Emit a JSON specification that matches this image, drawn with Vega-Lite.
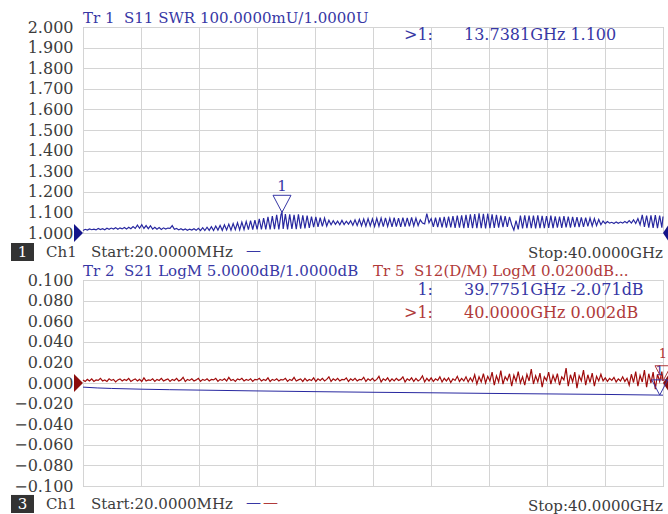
{
"$schema":"https://vega.github.io/schema/vega-lite/v6.json",
"padding":{"left":10,"top":10,"right":0,"bottom":0},
"background":"white",
"spacing":47,
"bounds":"flush",
"config":{
"view":{"stroke":"#ababab","strokeWidth":1},
"axis":{"grid":true,"gridColor":"#d4d4d4","gridWidth":1,"domain":false,"ticks":false,"labelFont":"DejaVu Serif","labelFontSize":16,"labelColor":"#3c3c3c","labelPadding":10,"title":null,"labelOverlap":false},
"text":{"font":"DejaVu Serif","fontSize":15,"baseline":"middle"}
},
"datasets":{
"trace":[
{"f":20,"s11":1.012,"s12":0.003},{"f":170,"s11":1.018,"s12":0.0015},{"f":320,"s11":1.014,"s12":0.0035},{"f":470,"s11":1.020,"s12":0.002},{"f":620,"s11":1.016,"s12":0.004},{"f":770,"s11":1.019,"s12":0.0015},{"f":920,"s11":1.015,"s12":0.003},{"f":1070,"s11":1.022,"s12":0.0025},{"f":1220,"s11":1.017,"s12":0.0045},{"f":1370,"s11":1.021,"s12":0.002},
{"f":1520,"s11":1.016,"s12":0.003},{"f":1670,"s11":1.023,"s12":0.0015},{"f":1820,"s11":1.018,"s12":0.004},{"f":1970,"s11":1.024,"s12":0.0025},{"f":2120,"s11":1.019,"s12":0.0035},{"f":2270,"s11":1.026,"s12":0.001},{"f":2420,"s11":1.018,"s12":0.003},{"f":2570,"s11":1.025,"s12":0.004},{"f":2720,"s11":1.020,"s12":0.002},{"f":2870,"s11":1.027,"s12":0.0035},
{"f":3020,"s11":1.019,"s12":0.0025},{"f":3170,"s11":1.028,"s12":0.0045},{"f":3320,"s11":1.021,"s12":0.0015},{"f":3470,"s11":1.031,"s12":0.003},{"f":3620,"s11":1.022,"s12":0.004},{"f":3770,"s11":1.038,"s12":0.002},{"f":3920,"s11":1.023,"s12":0.0035},{"f":4070,"s11":1.040,"s12":0.0015},{"f":4220,"s11":1.022,"s12":0.005},{"f":4370,"s11":1.036,"s12":0.002},
{"f":4520,"s11":1.021,"s12":0.003},{"f":4670,"s11":1.035,"s12":0.0025},{"f":4820,"s11":1.019,"s12":0.004},{"f":4970,"s11":1.028,"s12":0.0015},{"f":5120,"s11":1.018,"s12":0.0035},{"f":5270,"s11":1.026,"s12":0.0025},{"f":5420,"s11":1.017,"s12":0.0045},{"f":5570,"s11":1.025,"s12":0.002},{"f":5720,"s11":1.019,"s12":0.003},{"f":5870,"s11":1.024,"s12":0.004},
{"f":6020,"s11":1.023,"s12":0.0015},{"f":6170,"s11":1.036,"s12":0.0035},{"f":6320,"s11":1.018,"s12":0.0025},{"f":6470,"s11":1.022,"s12":0.0045},{"f":6620,"s11":1.015,"s12":0.002},{"f":6770,"s11":1.021,"s12":0.003},{"f":6920,"s11":1.014,"s12":0.0055},{"f":7070,"s11":1.020,"s12":0.0015},{"f":7220,"s11":1.013,"s12":0.0035},{"f":7370,"s11":1.019,"s12":0.0025},
{"f":7520,"s11":1.014,"s12":0.004},{"f":7670,"s11":1.021,"s12":0.002},{"f":7820,"s11":1.013,"s12":0.003},{"f":7970,"s11":1.023,"s12":0.0045},{"f":8120,"s11":1.012,"s12":0.0015},{"f":8270,"s11":1.026,"s12":0.0035},{"f":8420,"s11":1.012,"s12":0.0025},{"f":8570,"s11":1.028,"s12":0.004},{"f":8720,"s11":1.013,"s12":0.002},{"f":8870,"s11":1.031,"s12":0.0035},
{"f":9020,"s11":1.012,"s12":0.003},{"f":9170,"s11":1.034,"s12":0.0045},{"f":9320,"s11":1.014,"s12":0.0015},{"f":9470,"s11":1.037,"s12":0.0035},{"f":9620,"s11":1.013,"s12":0.0025},{"f":9770,"s11":1.040,"s12":0.004},{"f":9920,"s11":1.015,"s12":0.002},{"f":10070,"s11":1.043,"s12":0.0055},{"f":10220,"s11":1.014,"s12":0.0025},{"f":10370,"s11":1.046,"s12":0.0035},
{"f":10520,"s11":1.016,"s12":0.0015},{"f":10670,"s11":1.050,"s12":0.004},{"f":10820,"s11":1.015,"s12":0.003},{"f":10970,"s11":1.053,"s12":0.0045},{"f":11120,"s11":1.017,"s12":0.002},{"f":11270,"s11":1.056,"s12":0.0035},{"f":11420,"s11":1.016,"s12":0.0025},{"f":11570,"s11":1.060,"s12":0.004},{"f":11720,"s11":1.017,"s12":0.0015},{"f":11870,"s11":1.063,"s12":0.0035},
{"f":12020,"s11":1.018,"s12":0.003},{"f":12170,"s11":1.068,"s12":0.0045},{"f":12320,"s11":1.017,"s12":0.002},{"f":12470,"s11":1.072,"s12":0.0035},{"f":12620,"s11":1.018,"s12":0.0025},{"f":12770,"s11":1.078,"s12":0.005},{"f":12920,"s11":1.017,"s12":0.0015},{"f":13070,"s11":1.082,"s12":0.0035},{"f":13220,"s11":1.019,"s12":0.0025},{"f":13370,"s11":1.088,"s12":0.004},
{"f":13520,"s11":1.018,"s12":0.002},{"f":13670,"s11":1.090,"s12":0.0035},{"f":13738.1,"s11":1.100,"s12":0.003},{"f":13820,"s11":1.020,"s12":0.003},{"f":13970,"s11":1.092,"s12":0.0045},{"f":14120,"s11":1.018,"s12":0.0015},{"f":14270,"s11":1.090,"s12":0.0035},{"f":14420,"s11":1.020,"s12":0.0025},{"f":14570,"s11":1.088,"s12":0.0055},{"f":14720,"s11":1.019,"s12":0.002},{"f":14870,"s11":1.090,"s12":0.003},
{"f":15020,"s11":1.021,"s12":0.004},{"f":15170,"s11":1.086,"s12":0.0015},{"f":15320,"s11":1.022,"s12":0.0045},{"f":15470,"s11":1.084,"s12":0.002},{"f":15620,"s11":1.025,"s12":0.0035},{"f":15770,"s11":1.080,"s12":0.0025},{"f":15920,"s11":1.028,"s12":0.005},{"f":16070,"s11":1.078,"s12":0.0015},{"f":16220,"s11":1.030,"s12":0.004},{"f":16370,"s11":1.074,"s12":0.0025},
{"f":16520,"s11":1.032,"s12":0.0045},{"f":16670,"s11":1.072,"s12":0.002},{"f":16820,"s11":1.034,"s12":0.0035},{"f":16970,"s11":1.062,"s12":0.006},{"f":17120,"s11":1.040,"s12":0.0015},{"f":17270,"s11":1.060,"s12":0.004},{"f":17420,"s11":1.042,"s12":0.0025},{"f":17570,"s11":1.058,"s12":0.0045},{"f":17720,"s11":1.040,"s12":0.002},{"f":17870,"s11":1.061,"s12":0.0035},
{"f":18020,"s11":1.041,"s12":0.003},{"f":18170,"s11":1.057,"s12":0.005},{"f":18320,"s11":1.043,"s12":0.0015},{"f":18470,"s11":1.060,"s12":0.004},{"f":18620,"s11":1.038,"s12":0.0025},{"f":18770,"s11":1.064,"s12":0.0045},{"f":18920,"s11":1.036,"s12":0.002},{"f":19070,"s11":1.066,"s12":0.0035},{"f":19220,"s11":1.035,"s12":0.003},{"f":19370,"s11":1.068,"s12":0.0055},
{"f":19520,"s11":1.033,"s12":0.0015},{"f":19670,"s11":1.070,"s12":0.004},{"f":19820,"s11":1.034,"s12":0.0025},{"f":19970,"s11":1.069,"s12":0.0045},{"f":20120,"s11":1.032,"s12":0.002},{"f":20270,"s11":1.071,"s12":0.0035},{"f":20420,"s11":1.033,"s12":0.0065},{"f":20570,"s11":1.072,"s12":0.001},{"f":20720,"s11":1.031,"s12":0.004},{"f":20870,"s11":1.073,"s12":0.0025},
{"f":21020,"s11":1.032,"s12":0.005},{"f":21170,"s11":1.071,"s12":0.0015},{"f":21320,"s11":1.030,"s12":0.004},{"f":21470,"s11":1.074,"s12":0.002},{"f":21620,"s11":1.031,"s12":0.0045},{"f":21770,"s11":1.072,"s12":0.0025},{"f":21920,"s11":1.030,"s12":0.0035},{"f":22070,"s11":1.075,"s12":0.006},{"f":22220,"s11":1.031,"s12":0.001},{"f":22370,"s11":1.073,"s12":0.004},
{"f":22520,"s11":1.032,"s12":0.0025},{"f":22670,"s11":1.076,"s12":0.005},{"f":22820,"s11":1.034,"s12":0.0015},{"f":22970,"s11":1.072,"s12":0.0045},{"f":23120,"s11":1.036,"s12":0.002},{"f":23270,"s11":1.064,"s12":0.0035},{"f":23420,"s11":1.048,"s12":0.007},{"f":23570,"s11":1.044,"s12":0.001},{"f":23720,"s11":1.094,"s12":0.0045},{"f":23870,"s11":1.050,"s12":0.002},
{"f":24020,"s11":1.070,"s12":0.005},{"f":24170,"s11":1.030,"s12":0.0015},{"f":24320,"s11":1.074,"s12":0.004},{"f":24470,"s11":1.028,"s12":0.0025},{"f":24620,"s11":1.076,"s12":0.006},{"f":24770,"s11":1.027,"s12":0.001},{"f":24920,"s11":1.078,"s12":0.0045},{"f":25070,"s11":1.026,"s12":0.002},{"f":25220,"s11":1.080,"s12":0.005},{"f":25370,"s11":1.027,"s12":0.0005},
{"f":25520,"s11":1.082,"s12":0.004},{"f":25670,"s11":1.025,"s12":0.0025},{"f":25820,"s11":1.084,"s12":0.0065},{"f":25970,"s11":1.026,"s12":0.0015},{"f":26120,"s11":1.086,"s12":0.0045},{"f":26270,"s11":1.024,"s12":0.002},{"f":26420,"s11":1.088,"s12":0.006},{"f":26570,"s11":1.025,"s12":0.001},{"f":26720,"s11":1.090,"s12":0.005},{"f":26870,"s11":1.024,"s12":0.0015},
{"f":27020,"s11":1.092,"s12":0.008},{"f":27170,"s11":1.023,"s12":-0.001},{"f":27320,"s11":1.095,"s12":0.006},{"f":27470,"s11":1.024,"s12":0.001},{"f":27620,"s11":1.093,"s12":0.009},{"f":27770,"s11":1.022,"s12":0.0},{"f":27920,"s11":1.094,"s12":0.0065},{"f":28070,"s11":1.024,"s12":0.002},{"f":28220,"s11":1.090,"s12":0.0105},{"f":28370,"s11":1.025,"s12":-0.002},
{"f":28520,"s11":1.088,"s12":0.007},{"f":28670,"s11":1.026,"s12":0.001},{"f":28820,"s11":1.084,"s12":0.012},{"f":28970,"s11":1.028,"s12":-0.001},{"f":29120,"s11":1.082,"s12":0.006},{"f":29270,"s11":1.030,"s12":0.0025},{"f":29420,"s11":1.078,"s12":0.009},{"f":29570,"s11":1.040,"s12":-0.003},{"f":29720,"s11":1.014,"s12":0.0075},{"f":29870,"s11":1.060,"s12":0.0015},
{"f":30020,"s11":1.018,"s12":0.011},{"f":30170,"s11":1.084,"s12":0.0},{"f":30320,"s11":1.022,"s12":0.006},{"f":30470,"s11":1.086,"s12":-0.002},{"f":30620,"s11":1.023,"s12":0.0085},{"f":30770,"s11":1.085,"s12":0.002},{"f":30920,"s11":1.024,"s12":0.0135},{"f":31070,"s11":1.084,"s12":-0.001},{"f":31220,"s11":1.022,"s12":0.007},{"f":31370,"s11":1.086,"s12":0.001},
{"f":31520,"s11":1.024,"s12":0.0095},{"f":31670,"s11":1.083,"s12":-0.004},{"f":31820,"s11":1.023,"s12":0.006},{"f":31970,"s11":1.082,"s12":0.0025},{"f":32120,"s11":1.025,"s12":0.0105},{"f":32270,"s11":1.084,"s12":-0.001},{"f":32420,"s11":1.024,"s12":0.0075},{"f":32570,"s11":1.081,"s12":0.0015},{"f":32720,"s11":1.026,"s12":0.009},{"f":32870,"s11":1.080,"s12":-0.002},
{"f":33020,"s11":1.025,"s12":0.006},{"f":33170,"s11":1.082,"s12":0.003},{"f":33320,"s11":1.027,"s12":0.0145},{"f":33470,"s11":1.079,"s12":-0.003},{"f":33620,"s11":1.026,"s12":0.008},{"f":33770,"s11":1.078,"s12":0.001},{"f":33920,"s11":1.028,"s12":0.0105},{"f":34070,"s11":1.077,"s12":-0.005},{"f":34220,"s11":1.029,"s12":0.007},{"f":34370,"s11":1.076,"s12":0.002},
{"f":34520,"s11":1.030,"s12":0.0125},{"f":34670,"s11":1.074,"s12":-0.002},{"f":34820,"s11":1.032,"s12":0.008},{"f":34970,"s11":1.072,"s12":0.0005},{"f":35120,"s11":1.034,"s12":0.0095},{"f":35270,"s11":1.070,"s12":-0.003},{"f":35420,"s11":1.036,"s12":0.0065},{"f":35570,"s11":1.066,"s12":0.002},{"f":35720,"s11":1.040,"s12":0.0085},{"f":35870,"s11":1.058,"s12":0.002},
{"f":36020,"s11":1.046,"s12":0.005},{"f":36170,"s11":1.056,"s12":0.0015},{"f":36320,"s11":1.048,"s12":0.0045},{"f":36470,"s11":1.052,"s12":0.0025},{"f":36620,"s11":1.046,"s12":0.0055},{"f":36770,"s11":1.054,"s12":0.001},{"f":36920,"s11":1.047,"s12":0.004},{"f":37070,"s11":1.053,"s12":0.002},{"f":37220,"s11":1.048,"s12":0.006},{"f":37370,"s11":1.056,"s12":0.0015},
{"f":37520,"s11":1.049,"s12":0.0045},{"f":37670,"s11":1.060,"s12":-0.002},{"f":37820,"s11":1.048,"s12":0.0085},{"f":37970,"s11":1.064,"s12":0.0005},{"f":38120,"s11":1.046,"s12":0.011},{"f":38270,"s11":1.070,"s12":-0.003},{"f":38420,"s11":1.040,"s12":0.0075},{"f":38570,"s11":1.088,"s12":0.001},{"f":38720,"s11":1.030,"s12":0.0125},{"f":38870,"s11":1.084,"s12":-0.004},
{"f":39020,"s11":1.026,"s12":0.009},{"f":39170,"s11":1.086,"s12":0.0},{"f":39320,"s11":1.025,"s12":0.0105},{"f":39470,"s11":1.087,"s12":-0.006},{"f":39620,"s11":1.024,"s12":0.0085},{"f":39770,"s11":1.085,"s12":0.0015},{"f":39920,"s11":1.026,"s12":0.011},{"f":40000,"s11":1.080,"s12":0.002}
],
"s21":[
{"f":20,"s21":-0.0040},{"f":1000,"s21":-0.0048},{"f":2000,"s21":-0.0053},{"f":4018,"s21":-0.0060},{"f":6000,"s21":-0.0065},{"f":8016,"s21":-0.0069},{"f":12014,"s21":-0.0077},{"f":16012,"s21":-0.0084},{"f":20010,"s21":-0.0090},{"f":24008,"s21":-0.0095},{"f":28006,"s21":-0.0101},{"f":32004,"s21":-0.0106},{"f":36002,"s21":-0.0111},{"f":40000,"s21":-0.0118}
],
"markers":[
{"trace":"S11","f":13738.1,"v":1.1},
{"trace":"S21","f":39775.1,"v":-0.0117},
{"trace":"S12","f":40000,"v":0.002}
]
},
"vconcat":[
{
"width":580,"height":206,
"layer":[
{"data":{"name":"trace"},"mark":{"type":"line","color":"#2828a0","strokeWidth":1.2},
"encoding":{
"x":{"field":"f","type":"quantitative","scale":{"domain":[20,40000],"nice":false,"zero":false},"axis":{"values":[20,4018,8016,12014,16012,20010,24008,28006,32004,36002,40000],"labels":false,"tickCount":20}},
"y":{"field":"s11","type":"quantitative","scale":{"domain":[1,2],"nice":false,"zero":false},"axis":{"values":[1,1.1,1.2,1.3,1.4,1.5,1.6,1.7,1.8,1.9,2],"format":".3f","tickCount":20}}
}},
{"data":{"values":[{}]},"mark":{"type":"point","shape":"M0,0L-1,-1L-1,1Z","filled":true,"color":"#14148a","opacity":1,"size":324},"encoding":{"x":{"datum":20,"type":"quantitative"},"y":{"datum":1,"type":"quantitative"}}},
{"data":{"values":[{}]},"mark":{"type":"point","shape":"M0,0L0.667,-1L0.667,1Z","filled":true,"color":"#14148a","opacity":1,"size":324},"encoding":{"x":{"datum":40000,"type":"quantitative"},"y":{"datum":1,"type":"quantitative"}}},
{"data":{"name":"markers"},"transform":[{"filter":"datum.trace == 'S11'"}],"mark":{"type":"point","shape":"M0,0L-1,-1.9L1,-1.9Z","filled":false,"color":"#3737a5","opacity":1,"size":324,"strokeWidth":1},"encoding":{"x":{"field":"f","type":"quantitative"},"y":{"field":"v","type":"quantitative"}}},
{"data":{"name":"markers"},"transform":[{"filter":"datum.trace == 'S11'"}],"mark":{"type":"text","text":"1","dy":-26,"color":"#3737a5"},"encoding":{"x":{"field":"f","type":"quantitative"},"y":{"field":"v","type":"quantitative"}}},
{"data":{"values":[{}]},"mark":{"type":"text","text":"Tr 1\u00a0\u00a0S11 SWR 100.0000mU/1.0000U","align":"left","color":"#3737a5"},"encoding":{"x":{"datum":20,"type":"quantitative"},"y":{"datum":2.0437,"type":"quantitative"}}},
{"data":{"values":[{}]},"mark":{"type":"text","text":">1:","align":"right","color":"#3737a5","fontSize":16},"encoding":{"x":{"datum":24146,"type":"quantitative"},"y":{"datum":1.9612,"type":"quantitative"}}},
{"data":{"values":[{}]},"mark":{"type":"text","text":"13.7381GHz 1.100","align":"left","color":"#3737a5","fontSize":16},"encoding":{"x":{"datum":26283,"type":"quantitative"},"y":{"datum":1.9612,"type":"quantitative"}}},
{"data":{"values":[{}]},"mark":{"type":"rect","color":"#333333"},"encoding":{"x":{"datum":-4943,"type":"quantitative"},"x2":{"datum":-3358},"y":{"datum":0.9515,"type":"quantitative"},"y2":{"datum":0.8641}}},
{"data":{"values":[{}]},"mark":{"type":"text","text":"1","align":"center","color":"white"},"encoding":{"x":{"datum":-4150,"type":"quantitative"},"y":{"datum":0.9078,"type":"quantitative"}}},
{"data":{"values":[{}]},"mark":{"type":"text","text":"Ch1","align":"left","color":"#3c3c3c"},"encoding":{"x":{"datum":-2530,"type":"quantitative"},"y":{"datum":0.9078,"type":"quantitative"}}},
{"data":{"values":[{}]},"mark":{"type":"text","text":"Start:20.0000MHz","align":"left","color":"#3c3c3c"},"encoding":{"x":{"datum":571,"type":"quantitative"},"y":{"datum":0.9078,"type":"quantitative"}}},
{"data":{"values":[{}]},"mark":{"type":"text","text":"—","align":"left","color":"#3737a5"},"encoding":{"x":{"datum":11256,"type":"quantitative"},"y":{"datum":0.9175,"type":"quantitative"}}},
{"data":{"values":[{}]},"mark":{"type":"text","text":"Stop:40.0000GHz","align":"right","color":"#3c3c3c"},"encoding":{"x":{"datum":40000,"type":"quantitative"},"y":{"datum":0.9029,"type":"quantitative"}}}
]
},
{
"width":580,"height":206,
"layer":[
{"data":{"name":"s21"},"mark":{"type":"line","color":"#2828a0","strokeWidth":1},
"encoding":{
"x":{"field":"f","type":"quantitative","scale":{"domain":[20,40000],"nice":false,"zero":false},"axis":{"values":[20,4018,8016,12014,16012,20010,24008,28006,32004,36002,40000],"labels":false,"tickCount":20}},
"y":{"field":"s21","type":"quantitative","scale":{"domain":[-0.1,0.1],"nice":false,"zero":false},"axis":{"values":[-0.1,-0.08,-0.06,-0.04,-0.02,0,0.02,0.04,0.06,0.08,0.1],"format":".3f","tickCount":20}}
}},
{"data":{"name":"trace"},"mark":{"type":"line","color":"#a00c0c","strokeWidth":1.2},"encoding":{"x":{"field":"f","type":"quantitative"},"y":{"field":"s12","type":"quantitative"}}},
{"data":{"values":[{}]},"mark":{"type":"point","shape":"M0,0L-1,-1L-1,1Z","filled":true,"color":"#8b0d0d","opacity":1,"size":324},"encoding":{"x":{"datum":20,"type":"quantitative"},"y":{"datum":0,"type":"quantitative"}}},
{"data":{"values":[{}]},"mark":{"type":"point","shape":"M0,0L0.667,-1L0.667,1Z","filled":true,"color":"#8b0d0d","opacity":1,"size":324},"encoding":{"x":{"datum":40000,"type":"quantitative"},"y":{"datum":0,"type":"quantitative"}}},
{"data":{"name":"markers"},"transform":[{"filter":"datum.trace == 'S21'"}],"mark":{"type":"point","shape":"M0,0L-1,-1.9L1,-1.9Z","filled":false,"color":"#3737a5","opacity":1,"size":256,"strokeWidth":1},"encoding":{"x":{"field":"f","type":"quantitative"},"y":{"field":"v","type":"quantitative"}}},
{"data":{"name":"markers"},"transform":[{"filter":"datum.trace == 'S21'"}],"mark":{"type":"text","text":"1","dy":-24,"fontSize":13,"color":"#3737a5"},"encoding":{"x":{"field":"f","type":"quantitative"},"y":{"field":"v","type":"quantitative"}}},
{"data":{"name":"markers"},"transform":[{"filter":"datum.trace == 'S12'"}],"mark":{"type":"point","shape":"M0,0L-1,-1.9L1,-1.9Z","filled":false,"color":"#b03a3a","opacity":1,"size":256,"strokeWidth":1},"encoding":{"x":{"field":"f","type":"quantitative"},"y":{"field":"v","type":"quantitative"}}},
{"data":{"name":"markers"},"transform":[{"filter":"datum.trace == 'S12'"}],"mark":{"type":"text","text":"1","dy":-27,"fontSize":13,"color":"#b03a3a"},"encoding":{"x":{"field":"f","type":"quantitative"},"y":{"field":"v","type":"quantitative"}}},
{"data":{"values":[{}]},"mark":{"type":"text","text":"Tr 2\u00a0\u00a0S21 LogM 5.0000dB/1.0000dB","align":"left","color":"#3737a5"},"encoding":{"x":{"datum":20,"type":"quantitative"},"y":{"datum":0.1087,"type":"quantitative"}}},
{"data":{"values":[{}]},"mark":{"type":"text","text":"Tr 5\u00a0\u00a0S12(D/M) LogM 0.0200dB...","align":"left","color":"#b03a3a"},"encoding":{"x":{"datum":20010,"type":"quantitative"},"y":{"datum":0.1087,"type":"quantitative"}}},
{"data":{"values":[{}]},"mark":{"type":"text","text":"1:","align":"right","color":"#3737a5","fontSize":16},"encoding":{"x":{"datum":24146,"type":"quantitative"},"y":{"datum":0.0903,"type":"quantitative"}}},
{"data":{"values":[{}]},"mark":{"type":"text","text":"39.7751GHz -2.071dB","align":"left","color":"#3737a5","fontSize":16},"encoding":{"x":{"datum":26283,"type":"quantitative"},"y":{"datum":0.0903,"type":"quantitative"}}},
{"data":{"values":[{}]},"mark":{"type":"text","text":">1:","align":"right","color":"#b03a3a","fontSize":16},"encoding":{"x":{"datum":24146,"type":"quantitative"},"y":{"datum":0.068,"type":"quantitative"}}},
{"data":{"values":[{}]},"mark":{"type":"text","text":"40.0000GHz 0.002dB","align":"left","color":"#b03a3a","fontSize":16},"encoding":{"x":{"datum":26283,"type":"quantitative"},"y":{"datum":0.068,"type":"quantitative"}}},
{"data":{"values":[{}]},"mark":{"type":"rect","color":"#333333"},"encoding":{"x":{"datum":-4943,"type":"quantitative"},"x2":{"datum":-3358},"y":{"datum":-0.1087,"type":"quantitative"},"y2":{"datum":-0.1262}}},
{"data":{"values":[{}]},"mark":{"type":"text","text":"3","align":"center","color":"white"},"encoding":{"x":{"datum":-4150,"type":"quantitative"},"y":{"datum":-0.1175,"type":"quantitative"}}},
{"data":{"values":[{}]},"mark":{"type":"text","text":"Ch1","align":"left","color":"#3c3c3c"},"encoding":{"x":{"datum":-2530,"type":"quantitative"},"y":{"datum":-0.1175,"type":"quantitative"}}},
{"data":{"values":[{}]},"mark":{"type":"text","text":"Start:20.0000MHz","align":"left","color":"#3c3c3c"},"encoding":{"x":{"datum":571,"type":"quantitative"},"y":{"datum":-0.1175,"type":"quantitative"}}},
{"data":{"values":[{}]},"mark":{"type":"text","text":"—","align":"left","color":"#3737a5"},"encoding":{"x":{"datum":11256,"type":"quantitative"},"y":{"datum":-0.1155,"type":"quantitative"}}},
{"data":{"values":[{}]},"mark":{"type":"text","text":"—","align":"left","color":"#b03a3a"},"encoding":{"x":{"datum":12428,"type":"quantitative"},"y":{"datum":-0.1155,"type":"quantitative"}}},
{"data":{"values":[{}]},"mark":{"type":"text","text":"Stop:40.0000GHz","align":"right","color":"#3c3c3c"},"encoding":{"x":{"datum":40000,"type":"quantitative"},"y":{"datum":-0.1194,"type":"quantitative"}}}
]
}
]
}
